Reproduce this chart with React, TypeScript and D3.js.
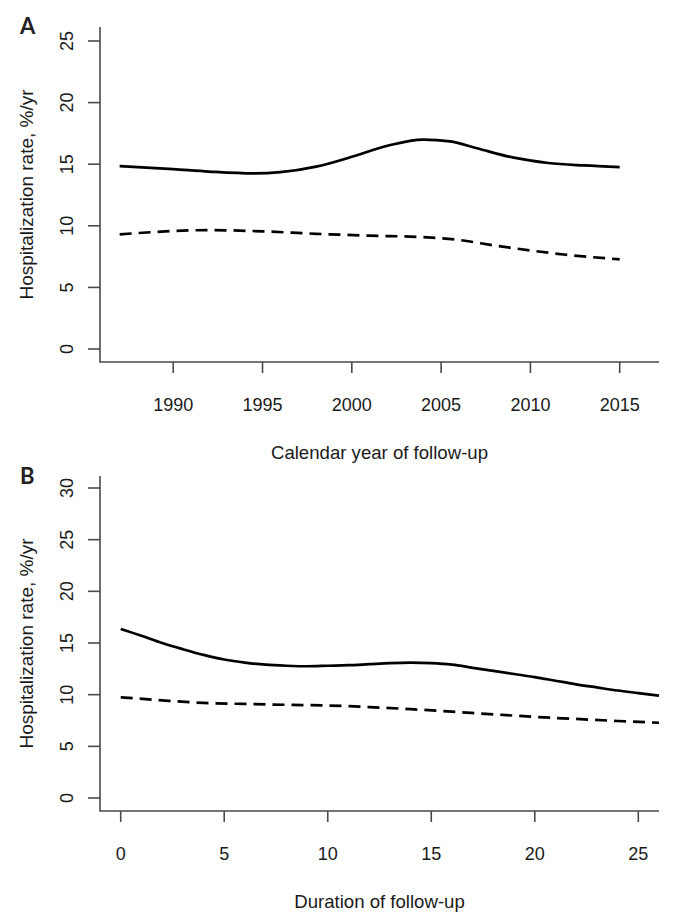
import React from "react";
import * as d3 from "d3";

// Panel A: calendar year
const yearsA = [1987, 1990, 1992, 1994.5, 1996, 1998, 2000, 2002, 2004, 2005.5, 2007, 2009, 2011, 2013, 2015];
const solidA = [14.85, 14.6, 14.4, 14.25, 14.35, 14.8, 15.6, 16.5, 17.0, 16.85, 16.3, 15.55, 15.1, 14.9, 14.77];
const yearsDashA = [1987, 1989, 1992, 1995, 1998, 2001, 2004, 2006, 2008, 2010, 2012, 2015];
const dashedA = [9.3, 9.5, 9.65, 9.55, 9.35, 9.2, 9.08, 8.85, 8.4, 8.0, 7.65, 7.28];
const xTicksA = [1990, 1995, 2000, 2005, 2010, 2015];
const yTicksA = [0, 5, 10, 15, 20, 25];

// Panel B: duration of follow-up
const durB = [0, 1, 2, 3, 4, 5, 6, 7, 8, 9, 10, 11, 12, 13, 14, 15, 16, 17, 18, 19, 20, 21, 22, 23, 24, 25, 26];
const solidB = [16.35, 15.7, 15.0, 14.4, 13.85, 13.4, 13.1, 12.9, 12.8, 12.75, 12.8, 12.85, 12.95, 13.05, 13.1, 13.05, 12.9, 12.6, 12.3, 12.0, 11.7, 11.35, 11.0, 10.7, 10.4, 10.15, 9.9];
const durDashB = [0, 2, 4, 6, 8, 10, 12, 14, 16, 18, 20, 22, 24, 26];
const dashedB = [9.75, 9.45, 9.2, 9.1, 9.02, 8.95, 8.8, 8.6, 8.35, 8.1, 7.85, 7.65, 7.45, 7.28];
const xTicksB = [0, 5, 10, 15, 20, 25];
const yTicksB = [0, 5, 10, 15, 20, 25, 30];

const FONT = "'Liberation Sans', Arial, sans-serif";
const AXIS = "#4a4a4a";
const TEXT = "#1a1a1a";

type PanelProps = {
  letter: string;
  top: number;
  bottom: number;
  x: d3.ScaleLinear<number, number>;
  y: d3.ScaleLinear<number, number>;
  xTicks: number[];
  yTicks: number[];
  xTitle: string;
  lines: { xs: number[]; ys: number[]; dashed: boolean }[];
  letterY: number;
};

function Panel({ letter, top, bottom, x, y, xTicks, yTicks, xTitle, lines, letterY }: PanelProps) {
  const left = 100;
  const right = 659;
  const line = d3
    .line<[number, number]>()
    .x((d) => x(d[0]))
    .y((d) => y(d[1]))
    .curve(d3.curveMonotoneX);
  const yMid = (top + bottom) / 2;
  return (
    <g>
      <text x={20} y={letterY} fontFamily="Lato, 'Open Sans', sans-serif" fontWeight="bold" fontSize={22} fill="#222">
        {letter}
      </text>
      {lines.map((l, i) => (
        <path
          key={i}
          d={line(l.xs.map((v, j) => [v, l.ys[j]] as [number, number])) || ""}
          fill="none"
          stroke="#000"
          strokeWidth={2.7}
          strokeDasharray={l.dashed ? "12,7" : undefined}
        />
      ))}
      {/* L-shaped box */}
      <path d={`M${left},${top}V${bottom}H${right}`} fill="none" stroke={AXIS} strokeWidth={1.6} />
      {yTicks.map((t) => (
        <g key={"y" + t}>
          <line x1={left - 12} x2={left} y1={y(t)} y2={y(t)} stroke={AXIS} strokeWidth={1.6} />
          <text
            transform={`translate(${73},${y(t)}) rotate(-90)`}
            textAnchor="middle"
            fontFamily={FONT}
            fontSize={18}
            fill={TEXT}
          >
            {t}
          </text>
        </g>
      ))}
      {xTicks.map((t) => (
        <g key={"x" + t}>
          <line x1={x(t)} x2={x(t)} y1={bottom} y2={bottom + 11} stroke={AXIS} strokeWidth={1.6} />
          <text x={x(t)} y={bottom + 49} textAnchor="middle" fontFamily={FONT} fontSize={18} fill={TEXT}>
            {t}
          </text>
        </g>
      ))}
      <text x={(left + right) / 2} y={bottom + 97} textAnchor="middle" fontFamily={FONT} fontSize={18.6} fill={TEXT}>
        {xTitle}
      </text>
      <text
        transform={`translate(${33},${yMid}) rotate(-90)`}
        textAnchor="middle"
        fontFamily={FONT}
        fontSize={19}
        fill={TEXT}
      >
        Hospitalization rate, %/yr
      </text>
    </g>
  );
}

export default function App() {
  const xA = d3.scaleLinear().domain([1985.9, 2017.2]).range([100, 659]);
  const yA = d3.scaleLinear().domain([0, 25]).range([349, 41]);
  const xB = d3.scaleLinear().domain([-1, 26]).range([100, 659]);
  const yB = d3.scaleLinear().domain([0, 30]).range([798, 488]);
  return (
    <svg
      width={678}
      height={915}
      style={{ position: "absolute", left: 0, top: 0, background: "#fff" }}
    >
      <rect width={678} height={915} fill="#fff" />
      <Panel
        letter="A"
        letterY={34}
        top={27}
        bottom={362}
        x={xA}
        y={yA}
        xTicks={xTicksA}
        yTicks={yTicksA}
        xTitle="Calendar year of follow-up"
        lines={[
          { xs: yearsA, ys: solidA, dashed: false },
          { xs: yearsDashA, ys: dashedA, dashed: true },
        ]}
      />
      <Panel
        letter="B"
        letterY={484}
        top={476}
        bottom={811}
        x={xB}
        y={yB}
        xTicks={xTicksB}
        yTicks={yTicksB}
        xTitle="Duration of follow-up"
        lines={[
          { xs: durB, ys: solidB, dashed: false },
          { xs: durDashB, ys: dashedB, dashed: true },
        ]}
      />
    </svg>
  );
}
